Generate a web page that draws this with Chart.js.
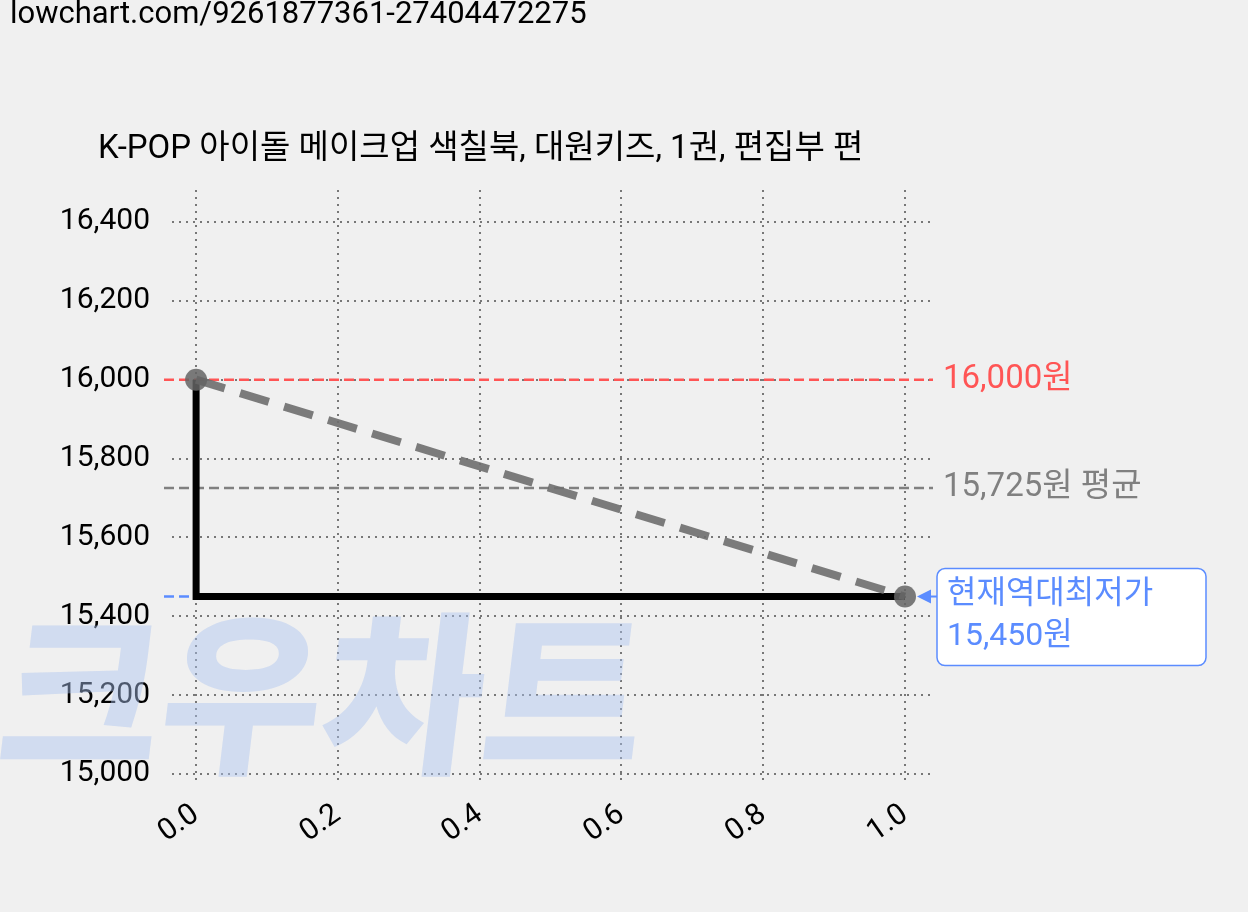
<!DOCTYPE html>
<html><head><meta charset="utf-8">
<script src="https://cdn.jsdelivr.net/npm/chart.js@4/dist/chart.umd.min.js"></script>
<style>html,body{margin:0;padding:0;background:#f0f0f0;}#w{position:relative;width:1248px;height:912px;}</style>
</head><body><div id="w"><canvas id="c" width="1248" height="912"></canvas></div>
<script>
const titleText = 'K-POP 아이돌 메이크업 색칠북, 대원키즈, 1권, 편집부 편';
const urlText = 'lowchart.com/9261877361-27404472275';
const xValues = [0, 1];
const priceValues = [16000, 15450];
const stepX = [0, 0, 1];
const stepY = [16000, 15450, 15450];
const yTicks = [15000, 15200, 15400, 15600, 15800, 16000, 16200, 16400];
const xTicks = [0, 0.2, 0.4, 0.6, 0.8, 1.0];
const maxPrice = 16000, avgPrice = 15725, minPrice = 15450;
const FONT = "Roboto, 'Noto Sans CJK KR', sans-serif";

const overlay = {
  id: 'overlay',
  beforeDatasetsDraw(ch) {
    const c = ch.ctx, x = ch.scales.x, y = ch.scales.y, a = ch.chartArea;
    c.save();
    c.font = "900 175px 'Noto Sans CJK KR'";
    c.fillStyle = 'rgba(170,195,240,0.45)';
    c.textBaseline = 'alphabetic';
    c.setTransform(1, 0, -0.12, 1, 90, 0);
    c.fillText('크우차트', -5, 760);
    c.setTransform(1, 0, 0, 1, 0, 0);
    c.setLineDash([10, 5]); c.lineWidth = 2.5;
    const hl = (v, col, x0) => { c.strokeStyle = col; c.beginPath(); c.moveTo(x0, y.getPixelForValue(v)); c.lineTo(a.right, y.getPixelForValue(v)); c.stroke(); };
    hl(maxPrice, '#ff5555', a.left - 8);
    hl(avgPrice, '#808080', a.left - 8);
    c.strokeStyle = '#5b8cff'; c.beginPath();
    c.moveTo(a.left - 8, y.getPixelForValue(minPrice)); c.lineTo(x.getPixelForValue(1), y.getPixelForValue(minPrice)); c.stroke();
    c.restore();
  },
  afterDraw(ch) {
    const c = ch.ctx, x = ch.scales.x, y = ch.scales.y, a = ch.chartArea;
    c.save();
    c.font = '33px ' + FONT; c.textBaseline = 'middle';
    c.fillStyle = '#ff5555'; c.fillText(maxPrice.toLocaleString('en-US') + '원', a.right + 10, y.getPixelForValue(maxPrice));
    c.fillStyle = '#808080'; c.fillText(avgPrice.toLocaleString('en-US') + '원 평균', a.right + 10, y.getPixelForValue(avgPrice));
    const py = y.getPixelForValue(minPrice), px = x.getPixelForValue(1);
    const bx = 937, by = py - 28, bw = 269, bh = 97;
    c.fillStyle = '#fff'; c.strokeStyle = '#5b8cff'; c.lineWidth = 1.5;
    c.beginPath(); c.roundRect(bx, by, bw, bh, 8); c.fill(); c.stroke();
    c.fillStyle = '#5b8cff';
    c.beginPath(); c.moveTo(px + 12, py); c.lineTo(px + 26, py - 7); c.lineTo(px + 26, py + 7); c.closePath(); c.fill();
    c.fillRect(px + 24, py - 1, bx - px - 24, 2);
    c.font = '32px ' + FONT;
    c.fillText('현재역대최저가', bx + 10, by + 26);
    c.fillText(minPrice.toLocaleString('en-US') + '원', bx + 10, by + 68);
    c.fillStyle = '#000'; c.font = '31px ' + FONT; c.textBaseline = 'top';
    c.fillText(urlText, 10, 0);
    c.font = '33px ' + FONT; c.textBaseline = 'middle';
    c.fillText(titleText, 98, 150);
    c.restore();
  }
};

new Chart(document.getElementById('c'), {
  type: 'scatter',
  data: { datasets: [
    { data: stepX.map((v, i) => ({ x: v, y: stepY[i] })), showLine: true, borderColor: '#000', borderWidth: 7, pointRadius: 0, order: 2 },
    { data: xValues.map((v, i) => ({ x: v, y: priceValues[i] })), showLine: true, borderColor: 'rgba(110,110,110,0.9)', borderWidth: 8, borderDash: [30, 16],
      pointRadius: 11, pointBackgroundColor: 'rgba(100,100,100,0.85)', pointBorderWidth: 0, order: 1 }
  ]},
  plugins: [overlay],
  options: {
    responsive: false, animation: false,
    layout: { padding: { top: 190, right: 315, left: 0, bottom: 0 } },
    plugins: { legend: { display: false }, tooltip: { enabled: false } },
    scales: {
      x: { type: 'linear', min: -0.034, max: 1.0395,
        afterBuildTicks: s => { s.ticks = xTicks.map(v => ({ value: v })); },
        afterFit: s => { s.height = 127; },
        border: { display: false, dash: [2, 5] },
        grid: { color: '#777', lineWidth: 2, drawTicks: false },
        ticks: { maxRotation: 35, minRotation: 35, padding: 12, color: '#000', font: { family: FONT, size: 30 }, callback: v => Number(v).toFixed(1) } },
      y: { min: 14972, max: 16481,
        afterBuildTicks: s => { s.ticks = yTicks.map(v => ({ value: v })); },
        afterFit: s => { s.width = 172; },
        border: { display: false, dash: [2, 5] },
        grid: { color: '#777', lineWidth: 2, drawTicks: false },
        ticks: { padding: 22, color: '#000', font: { family: FONT, size: 30 }, callback: v => Number(v).toLocaleString('en-US') } }
    }
  }
});
</script></body></html>
